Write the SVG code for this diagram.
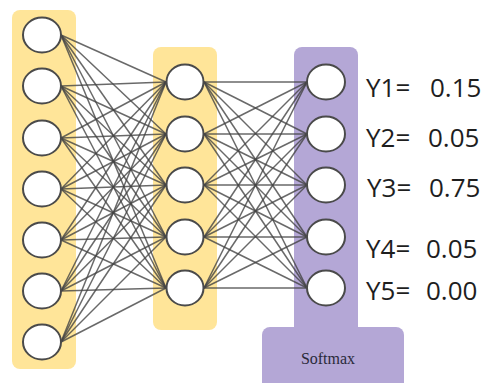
<svg xmlns="http://www.w3.org/2000/svg" width="486" height="383" viewBox="0 0 486 383">
<style>
.yl{fill:#FFE599}
.pu{fill:#B4A7D6}
.nd{fill:#fff;stroke:#4a4a4a;stroke-width:2}
.cn line{stroke:#444;stroke-opacity:0.8;stroke-width:1.5}
.lb{font-family:"Open Sans","DejaVu Sans",sans-serif;font-size:26px;fill:#1e1e1e}
.sm{font-family:"Liberation Serif","Times New Roman",serif;font-size:16px;fill:#2a2a3a}
</style>
<rect width="486" height="383" fill="#fff"/>
<g id="layer-input-bg"><rect class="yl" x="12" y="10" width="64" height="359" rx="8"/></g>
<g id="layer-hidden-bg"><rect class="yl" x="153" y="47" width="64" height="283" rx="8"/></g>
<g id="layer-output-bg">
<rect class="pu" x="294" y="47" width="64" height="290" rx="8"/>
<rect class="pu" x="262" y="327" width="142" height="70" rx="8"/>
<text class="sm" x="328" y="364" text-anchor="middle">Softmax</text>
</g>
<g id="connectors" class="cn">
<line x1="61" y1="35" x2="166" y2="82"/><line x1="61" y1="35" x2="166" y2="134"/><line x1="61" y1="35" x2="166" y2="185"/><line x1="61" y1="35" x2="166" y2="237"/><line x1="61" y1="35" x2="166" y2="288"/>
<line x1="61" y1="86" x2="166" y2="82"/><line x1="61" y1="86" x2="166" y2="134"/><line x1="61" y1="86" x2="166" y2="185"/><line x1="61" y1="86" x2="166" y2="237"/><line x1="61" y1="86" x2="166" y2="288"/>
<line x1="61" y1="138" x2="166" y2="82"/><line x1="61" y1="138" x2="166" y2="134"/><line x1="61" y1="138" x2="166" y2="185"/><line x1="61" y1="138" x2="166" y2="237"/><line x1="61" y1="138" x2="166" y2="288"/>
<line x1="61" y1="189" x2="166" y2="82"/><line x1="61" y1="189" x2="166" y2="134"/><line x1="61" y1="189" x2="166" y2="185"/><line x1="61" y1="189" x2="166" y2="237"/><line x1="61" y1="189" x2="166" y2="288"/>
<line x1="61" y1="240" x2="166" y2="82"/><line x1="61" y1="240" x2="166" y2="134"/><line x1="61" y1="240" x2="166" y2="185"/><line x1="61" y1="240" x2="166" y2="237"/><line x1="61" y1="240" x2="166" y2="288"/>
<line x1="61" y1="291" x2="166" y2="82"/><line x1="61" y1="291" x2="166" y2="134"/><line x1="61" y1="291" x2="166" y2="185"/><line x1="61" y1="291" x2="166" y2="237"/><line x1="61" y1="291" x2="166" y2="288"/>
<line x1="61" y1="342" x2="166" y2="82"/><line x1="61" y1="342" x2="166" y2="134"/><line x1="61" y1="342" x2="166" y2="185"/><line x1="61" y1="342" x2="166" y2="237"/><line x1="61" y1="342" x2="166" y2="288"/>
<line x1="204" y1="82" x2="307" y2="82"/><line x1="204" y1="82" x2="307" y2="134"/><line x1="204" y1="82" x2="307" y2="185"/><line x1="204" y1="82" x2="307" y2="237"/><line x1="204" y1="82" x2="307" y2="288"/>
<line x1="204" y1="134" x2="307" y2="82"/><line x1="204" y1="134" x2="307" y2="134"/><line x1="204" y1="134" x2="307" y2="185"/><line x1="204" y1="134" x2="307" y2="237"/><line x1="204" y1="134" x2="307" y2="288"/>
<line x1="204" y1="185" x2="307" y2="82"/><line x1="204" y1="185" x2="307" y2="134"/><line x1="204" y1="185" x2="307" y2="185"/><line x1="204" y1="185" x2="307" y2="237"/><line x1="204" y1="185" x2="307" y2="288"/>
<line x1="204" y1="237" x2="307" y2="82"/><line x1="204" y1="237" x2="307" y2="134"/><line x1="204" y1="237" x2="307" y2="185"/><line x1="204" y1="237" x2="307" y2="237"/><line x1="204" y1="237" x2="307" y2="288"/>
<line x1="204" y1="288" x2="307" y2="82"/><line x1="204" y1="288" x2="307" y2="134"/><line x1="204" y1="288" x2="307" y2="185"/><line x1="204" y1="288" x2="307" y2="237"/><line x1="204" y1="288" x2="307" y2="288"/>
</g>
<g id="input-nodes">
<g id="in1"><ellipse class="nd" cx="42" cy="35" rx="19" ry="17.5"/></g>
<g id="in2"><ellipse class="nd" cx="42" cy="86" rx="19" ry="17.5"/></g>
<g id="in3"><ellipse class="nd" cx="42" cy="138" rx="19" ry="17.5"/></g>
<g id="in4"><ellipse class="nd" cx="42" cy="189" rx="19" ry="17.5"/></g>
<g id="in5"><ellipse class="nd" cx="42" cy="240" rx="19" ry="17.5"/></g>
<g id="in6"><ellipse class="nd" cx="42" cy="291" rx="19" ry="17.5"/></g>
<g id="in7"><ellipse class="nd" cx="42" cy="342" rx="19" ry="17.5"/></g>
</g>
<g id="hidden-nodes">
<g id="h1"><ellipse class="nd" cx="185" cy="82" rx="18.5" ry="17.5"/></g>
<g id="h2"><ellipse class="nd" cx="185" cy="134" rx="18.5" ry="17.5"/></g>
<g id="h3"><ellipse class="nd" cx="185" cy="185" rx="18.5" ry="17.5"/></g>
<g id="h4"><ellipse class="nd" cx="185" cy="237" rx="18.5" ry="17.5"/></g>
<g id="h5"><ellipse class="nd" cx="185" cy="288" rx="18.5" ry="17.5"/></g>
</g>
<g id="output-nodes">
<g id="o1"><ellipse class="nd" cx="326" cy="82" rx="19" ry="17.5"/></g>
<g id="o2"><ellipse class="nd" cx="326" cy="134" rx="19" ry="17.5"/></g>
<g id="o3"><ellipse class="nd" cx="326" cy="185" rx="19" ry="17.5"/></g>
<g id="o4"><ellipse class="nd" cx="326" cy="237" rx="19" ry="17.5"/></g>
<g id="o5"><ellipse class="nd" cx="326" cy="288" rx="19" ry="17.5"/></g>
</g>
<g id="labels" class="lb">
<text y="97"><tspan x="366">Y1=</tspan><tspan x="430">0.15</tspan></text>
<text y="147"><tspan x="366">Y2=</tspan><tspan x="428">0.05</tspan></text>
<text y="197"><tspan x="367">Y3=</tspan><tspan x="429">0.75</tspan></text>
<text y="258"><tspan x="366">Y4=</tspan><tspan x="426">0.05</tspan></text>
<text y="300"><tspan x="366">Y5=</tspan><tspan x="426">0.00</tspan></text>
</g>
</svg>
